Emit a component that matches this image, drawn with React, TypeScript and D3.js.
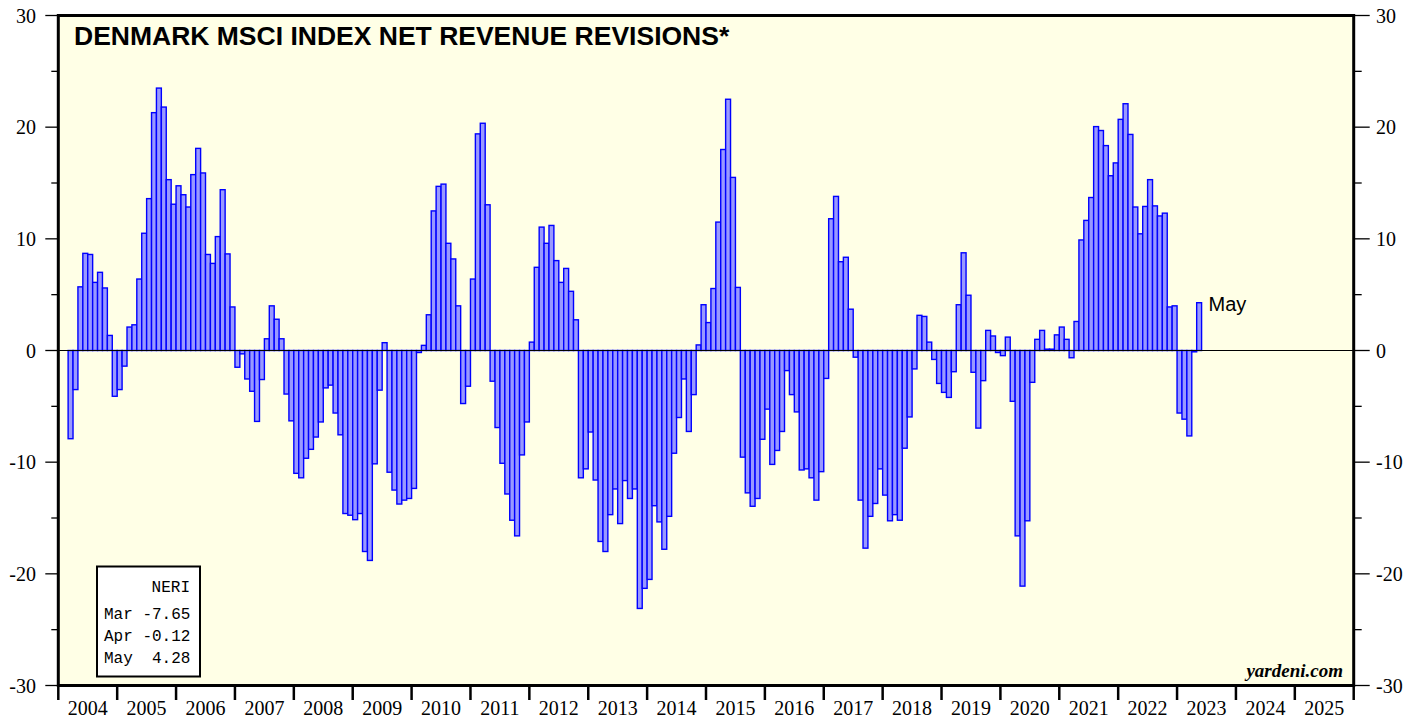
import React from "react";
import * as d3 from "d3";

const startYear = 2004;
const startMonth = 2; // March (0-based)
const neri: number[] = [
  // 2004 Mar-Dec
  -7.9, -3.5, 5.7, 8.7, 8.6, 6.1, 7.0, 5.6, 1.35, -4.1,
  // 2005
  -3.5, -1.4, 2.1, 2.3, 6.4, 10.5, 13.6, 21.3, 23.5, 21.8, 15.3, 13.1,
  // 2006
  14.75, 13.95, 12.85, 15.75, 18.1, 15.9, 8.6, 7.8, 10.2, 14.4, 8.65, 3.9,
  // 2007
  -1.5, -0.3, -2.55, -3.65, -6.35, -2.6, 1.05, 4.0, 2.8, 1.05, -3.9, -6.3,
  // 2008
  -11.0, -11.4, -9.65, -8.85, -7.75, -6.4, -3.35, -3.1, -5.6, -7.55, -14.6, -14.75,
  // 2009
  -15.15, -14.6, -18.0, -18.8, -10.15, -3.55, 0.7, -10.9, -12.5, -13.75, -13.4, -13.25,
  // 2010
  -12.35, -0.18, 0.46, 3.2, 12.5, 14.7, 14.9, 9.6, 8.2, 4.0, -4.75, -3.2,
  // 2011
  6.4, 19.4, 20.35, 13.05, -2.75, -6.9, -10.1, -12.85, -15.2, -16.6, -9.35, -6.4,
  // 2012
  0.75, 7.45, 11.05, 9.6, 11.2, 8.05, 6.1, 7.35, 5.3, 2.75, -11.4, -10.6,
  // 2013
  -7.3, -11.6, -17.1, -18.0, -14.7, -12.4, -15.5, -11.65, -13.25, -12.4, -23.1, -21.3,
  // 2014
  -20.5, -13.9, -15.35, -17.8, -14.85, -9.2, -6.0, -2.55, -7.25, -3.95, 0.5, 4.1,
  // 2015
  2.5, 5.55, 11.5, 18.0, 22.5, 15.5, 5.65, -9.55, -12.75, -13.95, -13.25, -7.95,
  // 2016
  -5.25, -10.2, -8.95, -7.25, -1.8, -3.95, -5.5, -10.7, -10.6, -11.4, -13.4, -10.85,
  // 2017
  -2.5, 11.8, 13.8, 7.95, 8.35, 3.7, -0.6, -13.4, -17.7, -14.85, -13.7, -10.6,
  // 2018
  -12.95, -15.25, -14.7, -15.2, -8.75, -5.95, -1.65, 3.15, 3.05, 0.75, -0.8, -2.95,
  // 2019
  -3.75, -4.2, -1.9, 4.1, 8.75, 4.95, -1.95, -6.95, -2.7, 1.8, 1.3, -0.18,
  // 2020
  -0.46, 1.2, -4.55, -16.6, -21.1, -15.25, -2.85, 1.0, 1.8, 0.12, 0.12, 1.4,
  // 2021
  2.1, 1.0, -0.65, 2.6, 9.9, 11.65, 13.7, 20.05, 19.7, 18.35, 15.65, 16.8,
  // 2022
  20.7, 22.1, 19.35, 12.85, 10.45, 12.9, 15.3, 12.95, 12.05, 12.3, 3.9, 4.0,
  // 2023
  -5.6, -6.15, -7.65, -0.12, 4.28,
];

const yearLabels: number[] = d3.range(2004, 2026);
const yTicksMajor: number[] = [-30, -20, -10, 0, 10, 20, 30];
const yTicksMinor: number[] = [-25, -15, -5, 5, 15, 25];
const legendTitle = "NERI";
const legendRows: string[] = ["Mar -7.65", "Apr -0.12", "May  4.28"];
const title = "DENMARK MSCI INDEX NET REVENUE REVISIONS*";
const lastLabel = "May";

export default function App() {
  const W = 1419;
  const H = 719;
  const left = 58.3;
  const right = 1353.7;
  const top = 15.5;
  const bottom = 685.5;

  const x = d3.scaleLinear().domain([2004, 2026]).range([left, right]);
  const y = d3.scaleLinear().domain([-30, 30]).range([bottom, top]);
  const mw = x(2004 + 1 / 12) - x(2004);

  const bars = neri.map((v, i) => {
    const t = startYear + (startMonth + i) / 12;
    return { t, v };
  });
  const last = bars[bars.length - 1];

  return (
    <svg
      width={W}
      height={H}
      style={{ position: "absolute", left: 0, top: 0, background: "#fff" }}
    >
      <rect x={left} y={top} width={right - left} height={bottom - top} fill="#FFFFE6" />
      {bars.map((b, i) => {
        const y0 = y(0);
        const y1 = y(b.v);
        return (
          <rect
            key={i}
            x={x(b.t)}
            y={Math.min(y0, y1)}
            width={mw}
            height={Math.abs(y1 - y0)}
            fill="#9999FF"
            stroke="#0000FF"
            strokeWidth={1.4}
          />
        );
      })}
      <line x1={left} x2={right} y1={y(0)} y2={y(0)} stroke="#000" strokeWidth={1.2} />
      <rect
        x={left}
        y={top}
        width={right - left}
        height={bottom - top}
        fill="none"
        stroke="#000"
        strokeWidth={3}
      />
      {yTicksMajor.map((t) => (
        <g key={"M" + t}>
          <line x1={left - 13} x2={left} y1={y(t)} y2={y(t)} stroke="#000" strokeWidth={1.3} />
          <line x1={right} x2={right + 16} y1={y(t)} y2={y(t)} stroke="#000" strokeWidth={1.3} />
          <text
            x={36}
            y={y(t) + 7}
            textAnchor="end"
            fontFamily="Liberation Serif, serif"
            fontSize={20}
            fill="#000"
          >
            {t}
          </text>
          <text
            x={1376}
            y={y(t) + 7}
            textAnchor="start"
            fontFamily="Liberation Serif, serif"
            fontSize={20}
            fill="#000"
          >
            {t}
          </text>
        </g>
      ))}
      {yTicksMinor.map((t) => (
        <g key={"m" + t}>
          <line x1={left - 7} x2={left} y1={y(t)} y2={y(t)} stroke="#000" strokeWidth={1.3} />
          <line x1={right} x2={right + 8} y1={y(t)} y2={y(t)} stroke="#000" strokeWidth={1.3} />
        </g>
      ))}
      {yearLabels.concat([2026]).map((yr) => (
        <line
          key={"xt" + yr}
          x1={x(yr)}
          x2={x(yr)}
          y1={bottom}
          y2={700}
          stroke="#000"
          strokeWidth={2.5}
        />
      ))}
      {yearLabels.map((yr) => (
        <text
          key={"xl" + yr}
          x={x(yr + 0.5)}
          y={715}
          textAnchor="middle"
          fontFamily="Liberation Serif, serif"
          fontSize={20}
          fill="#000"
        >
          {yr}
        </text>
      ))}
      <text
        x={74}
        y={45}
        fontFamily="Liberation Sans, Arial, sans-serif"
        fontWeight="bold"
        fontSize={26.5}
        fill="#000"
      >
        {title}
      </text>
      <text
        x={x(last.t) + mw + 7}
        y={311}
        fontFamily="Liberation Sans, Arial, sans-serif"
        fontSize={20}
        fill="#000"
      >
        {lastLabel}
      </text>
      <rect x={97} y={566.5} width={103} height={110} fill="#fff" stroke="#000" strokeWidth={2} />
      <text
        x={190}
        y={592}
        textAnchor="end"
        fontFamily="Liberation Mono, monospace"
        fontSize={16}
        fill="#000"
      >
        {legendTitle}
      </text>
      {legendRows.map((r, i) => (
        <text
          key={r}
          x={104}
          y={619 + i * 22}
          fontFamily="Liberation Mono, monospace"
          fontSize={16}
          fill="#000"
          style={{ whiteSpace: "pre" }}
        >
          {r}
        </text>
      ))}
      <text
        x={1343}
        y={677}
        textAnchor="end"
        fontFamily="Liberation Serif, serif"
        fontWeight="bold"
        fontStyle="italic"
        fontSize={19}
        fill="#000"
      >
        yardeni.com
      </text>
    </svg>
  );
}
